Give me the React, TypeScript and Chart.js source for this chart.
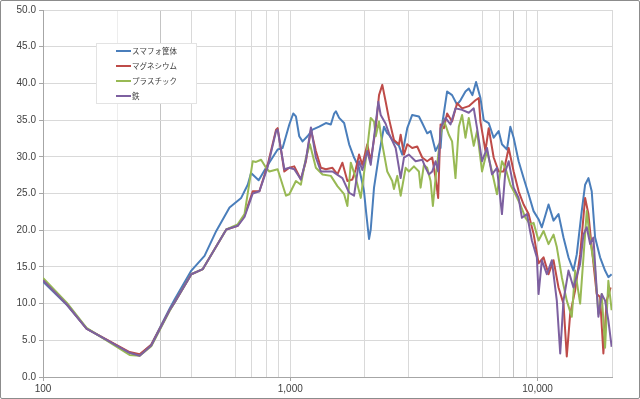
import React, { useEffect, useRef } from "react";
import { Chart, registerables } from "chart.js";

Chart.register(...registerables);

const SERIES_NAMES = ["スマフォ筐体", "マグネシウム", "プラスチック", "鉄"];
const COLORS = ["#4a7ebb", "#be4b48", "#98b954", "#7d60a0"];

const X_GRID = [100, 200, 300, 400, 600, 700, 800, 900, 1000, 2000, 3000, 6000, 7000, 8000, 9000, 10000, 20000];
const X_LABELS: Record<number, string> = { 100: "100", 1000: "1,000", 10000: "10,000" };

const FREQ_BLUE = [100,125,150,224,246,274,325,341,398,450,502,568,633,673,694,745,798,889,931,991,1028,1054,1087,1121,1174,1230,1309,1393,1459,1505,1529,1576,1651,1730,1811,1897,1987,2030,2082,2115,2181,2285,2393,2467,2506,2584,2668,2751,2837,2972,3112,3313,3416,3578,3693,3869,3989,4053,4113,4308,4512,4727,4878,5110,5270,5450,5640,5875,6058,6345,6646,6961,7178,7521,7762,8004,8384,8782,9199,9636,10093,10407,11077,11602,12154,12731,13335,13970,14405,15088,15573,16058,16558,17090,17899,18750,19334,19936];
const VAL_BLUE = [13.0,9.8,6.6,3.3,3.0,4.4,9.3,10.6,14.5,16.5,19.9,23.1,24.4,26.2,27.8,26.8,28.5,31.0,31.2,34.4,35.9,35.5,32.8,32.1,32.8,33.7,34.1,34.6,34.4,35.9,36.2,35.3,34.6,31.7,29.9,28.5,25.3,22.2,18.8,20.1,25.8,30.3,34.1,33.2,33.0,32.3,31.9,31.5,30.3,33.9,35.7,35.5,34.6,33.2,33.5,30.8,31.7,31.2,34.4,38.9,38.4,37.1,37.7,38.9,39.3,38.4,40.2,38.0,35.0,34.6,32.6,33.5,31.7,31.0,34.1,32.6,29.4,27.1,24.9,22.6,21.5,20.4,23.5,21.3,22.2,19.0,16.3,14.5,16.7,22.6,26.2,27.1,25.3,19.0,16.3,14.5,13.6,14.0];

const FREQ_RED = [100,125,150,224,246,274,325,341,398,443,551,613,653,705,750,810,876,889,946,991,1038,1104,1157,1212,1269,1330,1393,1481,1551,1625,1702,1783,1840,1897,1956,2049,2115,2216,2285,2356,2431,2506,2626,2668,2751,2795,2882,2972,3112,3261,3416,3578,3749,3869,3963,4053,4178,4308,4512,4727,4952,5270,5609,5784,5875,6154,6345,6646,6961,7294,7641,8004,8384,8782,9199,9636,10093,10573,11077,11602,12154,12731,13127,13548,14191,14866,15573,16058,16558,17346,17899,18457,19029,19753];
const VAL_RED = [13.2,9.9,6.6,3.4,3.1,4.4,9.1,10.2,14.0,14.7,20.1,20.6,22.0,25.3,25.3,28.9,33.7,33.9,28.0,28.5,28.7,26.9,29.4,33.7,30.8,28.5,28.3,28.5,27.6,29.2,26.7,26.9,28.3,30.3,28.9,31.7,29.4,33.9,38.4,39.8,37.5,35.2,32.3,32.1,31.7,33.0,30.3,31.7,31.2,31.4,29.9,29.4,29.9,27.1,24.4,34.4,33.9,35.9,34.8,37.3,36.6,36.9,37.7,38.0,34.8,30.8,33.9,29.9,28.0,28.0,31.2,28.0,25.3,23.5,22.2,19.5,15.5,16.3,14.0,15.9,12.2,10.0,2.8,8.6,11.8,16.7,24.4,22.2,17.7,11.3,10.9,3.2,10.4,12.2];

const FREQ_GREEN = [100,125,150,224,246,274,325,341,398,443,551,613,653,705,727,762,798,823,889,961,991,1054,1104,1157,1201,1269,1350,1459,1551,1651,1702,1757,1840,1928,2049,2115,2181,2216,2285,2356,2467,2584,2626,2708,2795,2928,3019,3162,3313,3365,3470,3578,3693,3773,3869,4053,4178,4377,4512,4657,4803,4952,5110,5270,5520,5692,5963,6245,6542,6852,7178,7410,7762,8131,8517,8922,9346,9636,10093,10573,11077,11602,11963,12533,13127,13750,14191,14866,15330,15808,16315,17090,17620,18170,18750,19334,19936];
const VAL_GREEN = [13.5,10.1,6.7,3.0,2.9,4.2,9.0,10.2,14.0,14.7,20.1,20.8,22.2,29.4,29.3,29.6,28.5,28.0,28.3,24.7,24.9,26.7,26.2,29.9,31.7,28.5,27.6,27.4,26.0,24.9,23.3,29.2,27.1,24.4,31.2,35.3,34.8,32.8,34.8,31.7,28.0,26.7,25.6,27.4,24.7,28.5,28.0,28.7,28.0,25.8,28.9,28.5,26.7,23.3,27.1,33.0,35.0,33.0,32.1,27.1,34.1,35.7,32.6,35.3,31.5,33.5,28.0,30.8,28.0,24.9,29.4,28.5,26.2,24.9,23.5,21.7,20.8,21.0,18.6,19.9,18.1,19.4,17.7,13.6,10.4,8.2,14.5,10.0,16.3,22.6,18.6,14.5,8.6,11.3,4.0,13.1,9.1];

const FREQ_PURPLE = [100,125,150,224,246,274,325,341,398,443,551,613,653,705,750,810,876,889,946,991,1038,1104,1157,1212,1269,1330,1481,1625,1730,1811,1897,1956,2049,2115,2270,2321,2431,2506,2668,2795,2882,3019,3213,3416,3526,3635,3749,3869,3963,4053,4245,4446,4657,4952,5270,5520,5692,5963,6245,6542,6852,7178,7410,7641,8004,8384,8645,9057,9485,9936,10093,10407,10903,11421,11963,12348,12731,13335,13970,14866,15330,15808,16315,16821,17620,18170,18750,19334,19936];
const VAL_PURPLE = [13.2,9.9,6.6,3.3,2.9,4.3,9.1,10.2,14.0,14.7,20.1,20.6,21.8,25.0,25.3,28.6,33.5,33.7,28.3,28.5,28.3,26.9,29.6,34.0,29.9,28.0,28.0,27.1,25.1,24.7,29.4,28.2,30.8,28.9,37.5,35.7,34.5,33.2,31.2,27.1,29.9,30.3,29.4,29.6,28.5,27.6,28.0,29.4,28.0,33.9,35.3,34.4,36.6,36.4,36.0,36.6,33.9,29.4,31.2,27.6,28.5,22.2,28.0,29.4,25.8,24.4,21.7,22.2,18.6,16.3,11.3,15.9,14.0,15.9,10.4,3.2,10.4,14.5,12.2,15.4,19.4,20.4,18.1,19.0,8.2,11.3,10.4,7.7,4.1];

const TICK_FONT = { size: 10, family: "'Liberation Sans', Arial, sans-serif" };

function toPoints(f: number[], v: number[]) {
  const n = Math.min(f.length, v.length);
  const out: { x: number; y: number }[] = [];
  for (let i = 0; i < n; i++) out.push({ x: f[i], y: v[i] });
  return out;
}

export default function App() {
  const ref = useRef<HTMLCanvasElement>(null);

  useEffect(() => {
    if (!ref.current) return;
    const freqs = [FREQ_BLUE, FREQ_RED, FREQ_GREEN, FREQ_PURPLE];
    const vals = [VAL_BLUE, VAL_RED, VAL_GREEN, VAL_PURPLE];

    const legendPlugin = {
      id: "boxLegend",
      afterDraw(chart: any) {
        const ctx = chart.ctx as CanvasRenderingContext2D;
        ctx.save();
        ctx.fillStyle = "#ffffff";
        ctx.fillRect(95, 42, 100, 60);
        ctx.strokeStyle = "#e3e3e3";
        ctx.lineWidth = 1;
        ctx.strokeRect(95.5, 42.5, 100, 60);
        ctx.font = "7.5px 'Noto Sans CJK JP', sans-serif";
        ctx.textBaseline = "middle";
        ctx.textAlign = "left";
        SERIES_NAMES.forEach((name, i) => {
          const y = 50 + 15 * i;
          ctx.strokeStyle = COLORS[i];
          ctx.lineWidth = 2;
          ctx.beginPath();
          ctx.moveTo(115, y);
          ctx.lineTo(130, y);
          ctx.stroke();
          ctx.fillStyle = "#404040";
          ctx.fillText(name, 131, y);
        });
        ctx.restore();
      },
    };

    const chart = new Chart(ref.current, {
      type: "line",
      data: {
        datasets: SERIES_NAMES.map((name, i) => ({
          label: name,
          data: toPoints(freqs[i], vals[i]),
          borderColor: COLORS[i],
          backgroundColor: COLORS[i],
          borderWidth: 2,
          pointRadius: 0,
          tension: 0,
          fill: false,
          borderJoinStyle: "round" as const,
          order: 4 - i,
        })),
      },
      options: {
        responsive: false,
        animation: false,
        devicePixelRatio: 1,
        parsing: false,
        layout: { padding: { left: 0, right: 27, top: 8, bottom: 0 } },
        plugins: {
          legend: { display: false },
          tooltip: { enabled: false },
        },
        scales: {
          x: {
            type: "logarithmic",
            min: 100,
            max: 20000,
            afterBuildTicks: (s: any) => {
              s.ticks = X_GRID.map((v) => ({ value: v }));
            },
            afterFit: (s: any) => {
              s.height = 21;
            },
            ticks: {
              autoSkip: false,
              maxRotation: 0,
              minRotation: 0,
              padding: 2,
              color: "#404040",
              font: TICK_FONT,
              callback: (v: any) => X_LABELS[Number(v)] ?? "",
            },
            grid: {
              color: (c: any) => {
                const v = c.tick ? c.tick.value : 0;
                if (v === 200) return "#ededed";
                if (v === 300 || v === 8000) return "#c4c4c4";
                return "#d9d9d9";
              },
              tickColor: (c: any) => {
                const v = c.tick ? c.tick.value : 0;
                return X_LABELS[v] ? "#a6a6a6" : "rgba(0,0,0,0)";
              },
              tickLength: 4,
            },
            border: { color: "#a6a6a6" },
          },
          y: {
            min: 0,
            max: 50,
            afterFit: (s: any) => {
              s.width = 42;
            },
            ticks: {
              stepSize: 5,
              padding: 3,
              color: "#404040",
              font: TICK_FONT,
              callback: (v: any) => Number(v).toFixed(1),
            },
            grid: {
              color: "#d9d9d9",
              tickColor: "#a6a6a6",
              tickLength: 4,
            },
            border: { color: "#a6a6a6" },
          },
        },
      },
      plugins: [legendPlugin],
    } as any);

    return () => chart.destroy();
  }, []);

  return (
    <div
      style={{
        position: "absolute",
        left: 0,
        top: 0,
        width: 640,
        height: 399,
        boxSizing: "border-box",
        border: "1px solid #8c8c8c",
        borderRadius: 2,
        background: "#ffffff",
        overflow: "hidden",
      }}
    >
      <canvas ref={ref} width={638} height={397} style={{ display: "block", width: 638, height: 397 }} />
    </div>
  );
}
